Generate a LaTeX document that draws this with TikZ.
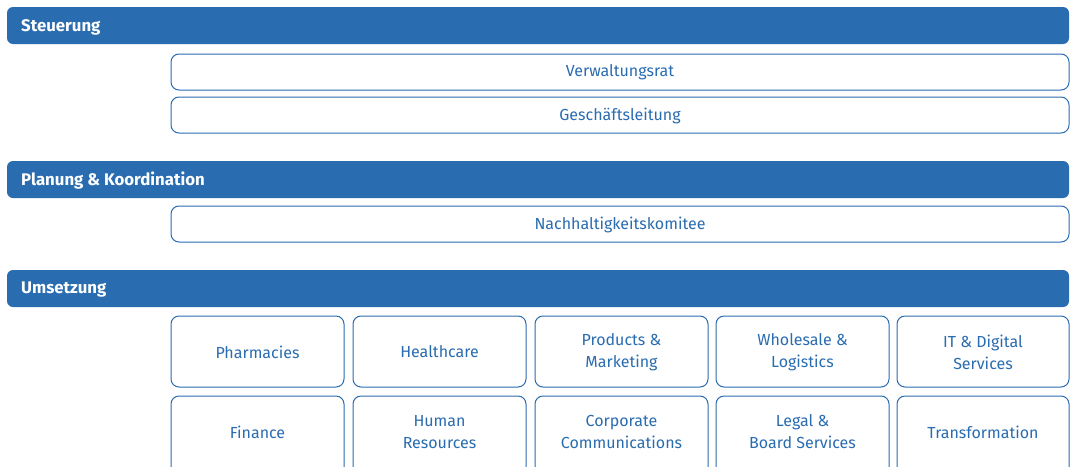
\documentclass[tikz,border=0pt]{standalone}
\usepackage{fontspec}
\setmainfont{Fira Sans}
\definecolor{bblue}{HTML}{2A6CB0}
\begin{document}
\begin{tikzpicture}[x=1pt,y=-1pt,
  hdr/.style={fill=bblue,rounded corners=6pt},
  hdrtxt/.style={text=white,font=\fontsize{16.8}{20}\selectfont\bfseries,anchor=west,inner sep=0pt},
  obox/.style={draw=bblue,line width=1pt,rounded corners=8pt,fill=white},
  btxt/.style={text=bblue,font=\fontsize{16}{22}\selectfont,align=center,inner sep=0pt}]
\useasboundingbox (0,0) rectangle (1070,466);
\clip (0,0) rectangle (1070,466);
% headers
\fill[hdr] (7,7) rectangle (1069,44);
\node[hdrtxt] (h1) at (21,27) {Steuerung};
\fill[hdr] (7,161) rectangle (1069,198);
\node[hdrtxt] (h2) at (21,181) {Planung \& Koordination};
\fill[hdr] (7,270) rectangle (1069,307);
\node[hdrtxt] (h3) at (21,290) {Umsetzung};
% wide boxes
\draw[obox] (171,54) rectangle (1069,90);
\node[btxt] (vr) at (620,72.5) {Verwaltungsrat};
\draw[obox] (171,97) rectangle (1069,133);
\node[btxt] (gl) at (620,115.5) {Geschäftsleitung};
\draw[obox] (171,206) rectangle (1069,242);
\node[btxt] (nk) at (620,224.5) {Nachhaltigkeitskomitee};
% grid
\foreach \xa/\xb/\ta/\tb/\na/\nb in {
  171/344/Pharmacies/Finance/c1a/c1b,
  353/526/Healthcare/{Human\\Resources}/c2a/c2b,
  535/708/{Products \&\\Marketing}/{Corporate\\Communications}/c3a/c3b,
  716/889/{Wholesale \&\\Logistics}/{Legal \&\\Board Services}/c4a/c4b,
  897/1069/{IT \& Digital\\Services}/Transformation/c5a/c5b}{
  \draw[obox] (\xa,316) rectangle (\xb,387);
  \node[btxt] (\na) at ({(\xa+\xb)/2},352) {\ta};
  \draw[obox] (\xa,396) rectangle (\xb,476);
  \node[btxt] (\nb) at ({(\xa+\xb)/2},432) {\tb};
}
\end{tikzpicture}
\end{document}
